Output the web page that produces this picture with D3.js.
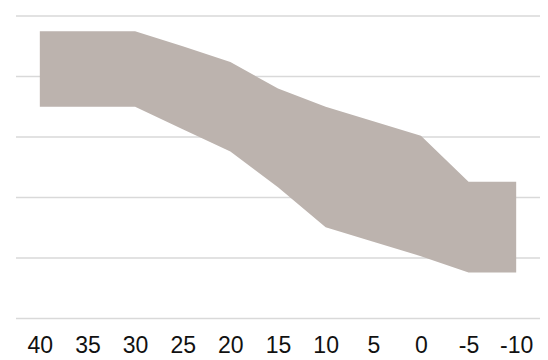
<!DOCTYPE html>
<html><head><meta charset="utf-8">
<script src="https://cdn.jsdelivr.net/npm/d3@7/dist/d3.min.js"></script>
<style>html,body{margin:0;padding:0;background:#fff;}</style>
</head><body>
<svg id="c" width="548" height="360"></svg>
<script>
const categories = ["40","35","30","25","20","15","10","5","0","-5","-10"];
const upper = [4.75,4.75,4.75,4.5,4.24,3.8,3.5,3.26,3.02,2.26,2.26];
const lower = [3.5,3.5,3.5,3.13,2.76,2.17,1.51,1.27,1.03,0.76,0.76];
const yTicks = [0,1,2,3,4,5];

(function(){
const svg = d3.select("#c");
const mLeft = 16, mRight = 540, mTop = 16, mBottom = 318.5;
const x = d3.scalePoint().domain(categories).range([mLeft, mRight]).padding(0.5);
const y = d3.scaleLinear().domain([0,5]).range([mBottom, mTop]);

svg.append("g").selectAll("line").data(yTicks).join("line")
  .attr("x1", mLeft).attr("x2", mRight)
  .attr("y1", d => y(d)).attr("y2", d => y(d))
  .attr("stroke", "#d9d9d9").attr("stroke-width", 1.5);

const data = categories.map((c,i) => ({c, u: upper[i], l: lower[i]}));
const area = d3.area().x(d => x(d.c)).y0(d => y(d.l)).y1(d => y(d.u));
svg.append("path").datum(data).attr("d", area).attr("fill", "#bcb3ae");

const xAxis = d3.axisBottom(x).tickSize(0).tickPadding(0);
const gx = svg.append("g").attr("transform", "translate(0,353)").call(xAxis);
gx.select(".domain").remove();
gx.selectAll("text").attr("font-family", "Liberation Sans, Arial, sans-serif")
  .attr("font-size", 23).attr("fill", "#111").attr("dy", "0").attr("y", 0);
})();
</script>
</body></html>
